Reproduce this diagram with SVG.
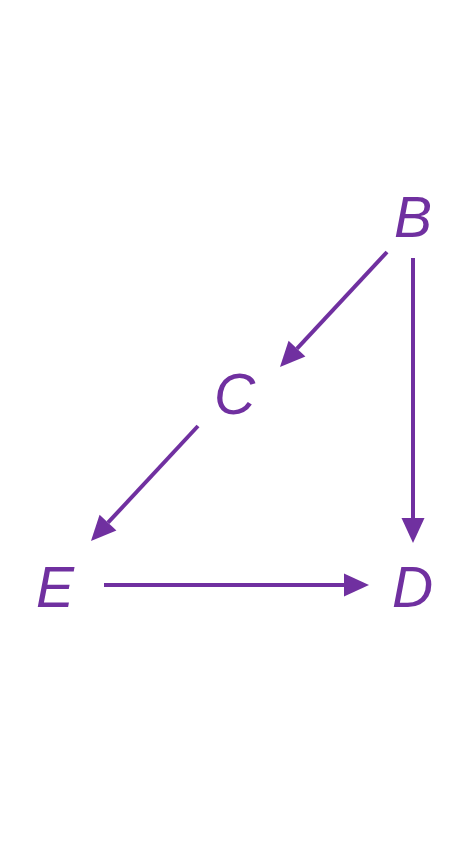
<svg xmlns="http://www.w3.org/2000/svg" width="470" height="854" viewBox="0 0 470 854">
<style>
.lbl{font-family:"Liberation Sans",Arial,sans-serif;font-style:italic;font-size:57px;fill:#7030A0}
.edge{stroke:#7030A0;stroke-width:4;fill:none;marker-end:url(#ah)}
</style>
<defs>
<marker id="ah" markerUnits="userSpaceOnUse" markerWidth="25" markerHeight="23" refX="0" refY="11.5" orient="auto" overflow="visible">
<path d="M0,0 L25,11.5 L0,23 Z" fill="#7030A0"/>
</marker>
</defs>
<rect width="470" height="854" fill="#fff"/>
<g id="connectors">
<line class="edge" x1="387" y1="252" x2="297" y2="348.7"/>
<line class="edge" x1="413" y1="258" x2="413" y2="518"/>
<line class="edge" x1="198" y1="426" x2="108" y2="522.7"/>
<line class="edge" x1="104" y1="585" x2="344" y2="585"/>
</g>
<g id="B"><text class="lbl" x="394" y="237">B</text></g>
<g id="C"><text class="lbl" x="214" y="414">C</text></g>
<g id="E"><text class="lbl" x="36" y="607">E</text></g>
<g id="D"><text class="lbl" x="392" y="607">D</text></g>
</svg>
